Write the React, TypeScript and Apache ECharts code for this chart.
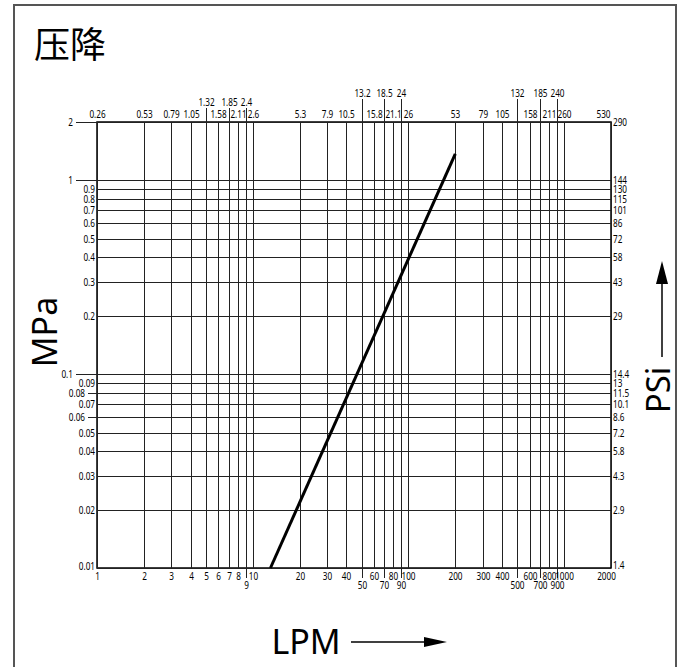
import React, { useEffect, useRef } from "react";
import * as echarts from "echarts";

// ---- data ----
const lpmTicks = [1, 2, 3, 4, 5, 6, 7, 8, 9, 10, 20, 30, 40, 50, 60, 70, 80, 90, 100, 200, 300, 400, 500, 600, 700, 800, 900, 1000, 2000];
const lpmLowered = [9, 50, 70, 90, 500, 700, 900];
const gpmLabels = ["0.26", "0.53", "0.79", "1.05", "1.32", "1.58", "1.85", "2.11", "2.4", "2.6", "5.3", "7.9", "10.5", "13.2", "15.8", "18.5", "21.1", "24", "26", "53", "79", "105", "132", "158", "185", "211", "240", "260", "530"];
const gpmRaisedLow = [5, 7, 9];
const gpmRaisedHigh = [50, 70, 90, 500, 700, 900];
const mpaTicks = [0.01, 0.02, 0.03, 0.04, 0.05, 0.06, 0.07, 0.08, 0.09, 0.1, 0.2, 0.3, 0.4, 0.5, 0.6, 0.7, 0.8, 0.9, 1, 2];
const mpaLabels = ["0.01", "0.02", "0.03", "0.04", "0.05", "0.06", "0.07", "0.08", "0.09", "0.1", "0.2", "0.3", "0.4", "0.5", "0.6", "0.7", "0.8", "0.9", "1", "2"];
const psiLabels = ["1.4", "2.9", "4.3", "5.8", "7.2", "8.6", "10.1", "11.5", "13", "14.4", "29", "43", "58", "72", "86", "101", "115", "130", "144", "290"];
const mpaLongTick = [2, 1, 0.1];
const mpaMidTick = [0.08, 0.06];
const curveLpm = [13, 200];
const curveMpa = [0.01, 1.37];

const X_MIN = lpmTicks[0];
const X_MAX = lpmTicks[lpmTicks.length - 1];
const Y_MIN = mpaTicks[0];
const Y_MAX = mpaTicks[mpaTicks.length - 1];

const SMALL_FONT = "'Noto Sans', 'Open Sans', sans-serif";
const BIG_FONT = "'Noto Sans', 'Open Sans', sans-serif";
const GRID_COLOR = "#222";
const NARROW = 0.82;

function smallText(text: string, x: number, y: number, align: string, vAlign: string) {
  return {
    type: "text",
    x,
    y,
    scaleX: NARROW,
    style: {
      text,
      x: 0,
      y: 0,
      align,
      verticalAlign: vAlign,
      fontSize: 10,
      lineHeight: 9,
      fontFamily: SMALL_FONT,
      fill: "#000",
    },
  };
}

export default function App() {
  const ref = useRef<HTMLDivElement>(null);

  useEffect(() => {
    if (!ref.current) return;
    const chart = echarts.init(ref.current, null, { renderer: "svg" });

    const xTickSeries = {
      type: "custom",
      coordinateSystem: "cartesian2d",
      silent: true,
      clip: false,
      z: 2,
      encode: { x: 0, y: 1 },
      data: lpmTicks.map((v) => [v, Y_MIN]),
      renderItem: (params: any, api: any) => {
        const i = params.dataIndex;
        const v = lpmTicks[i];
        const top = api.coord([v, Y_MAX]);
        const bot = api.coord([v, Y_MIN]);
        const x = Math.round(top[0]) + 0.5;
        const hi = gpmRaisedHigh.includes(v);
        const lo = gpmRaisedLow.includes(v);
        const down = lpmLowered.includes(v);
        const last = i === lpmTicks.length - 1;
        const yTop = top[1] - (hi ? 23 : lo ? 14 : 0);
        const yBot = bot[1] + (down ? 10 : 0);
        return {
          type: "group",
          children: [
            {
              type: "line",
              shape: { x1: x, y1: yTop, x2: x, y2: yBot },
              style: { stroke: GRID_COLOR, lineWidth: 1 },
            },
            smallText(String(v), last ? x - 5 : x, down ? bot[1] + 13 : bot[1] + 4, "center", "top"),
            smallText(gpmLabels[i], last ? x - 8 : x, hi || lo ? yTop - 1 : top[1] - 3, "center", "bottom"),
          ],
        };
      },
    };

    const yTickSeries = {
      type: "custom",
      coordinateSystem: "cartesian2d",
      silent: true,
      clip: false,
      z: 2,
      encode: { x: 0, y: 1 },
      data: mpaTicks.map((v) => [X_MIN, v]),
      renderItem: (params: any, api: any) => {
        const i = params.dataIndex;
        const v = mpaTicks[i];
        const l = api.coord([X_MIN, v]);
        const r = api.coord([X_MAX, v]);
        const y = Math.round(l[1]) + 0.5;
        const ext = mpaLongTick.includes(v) ? 21 : mpaMidTick.includes(v) ? 9 : 0;
        const first = i === 0;
        return {
          type: "group",
          children: [
            {
              type: "line",
              shape: { x1: l[0] - ext, y1: y, x2: r[0], y2: y },
              style: { stroke: GRID_COLOR, lineWidth: 1 },
            },
            smallText(mpaLabels[i], l[0] - ext - (ext ? 3 : 2), first ? y - 2 : y, "right", "middle"),
            smallText(psiLabels[i], r[0] + 2, first ? y - 3 : y, "left", "middle"),
          ],
        };
      },
    };

    const option = {
      animation: false,
      backgroundColor: "#fff",
      grid: {
        left: 97,
        right: 67,
        top: 122,
        bottom: 99,
        show: true,
        borderColor: "#000",
        borderWidth: 1.5,
        backgroundColor: "transparent",
      },
      xAxis: {
        type: "log",
        logBase: 10,
        min: X_MIN,
        max: X_MAX,
        axisLine: { show: false },
        axisTick: { show: false },
        axisLabel: { show: false },
        splitLine: { show: false },
      },
      yAxis: {
        type: "log",
        logBase: 10,
        min: Y_MIN,
        max: Y_MAX,
        axisLine: { show: false },
        axisTick: { show: false },
        axisLabel: { show: false },
        splitLine: { show: false },
      },
      series: [
        xTickSeries,
        yTickSeries,
        {
          type: "line",
          z: 5,
          silent: true,
          symbol: "none",
          lineStyle: { color: "#000", width: 3 },
          data: curveLpm.map((x, i) => [x, curveMpa[i]]),
        },
      ],
      graphic: [
        {
          type: "rect",
          shape: { x: 14, y: 5, width: 662, height: 700 },
          style: { fill: "none", stroke: "#555", lineWidth: 2 },
          silent: true,
        },
        {
          type: "text",
          x: 70,
          y: 42,
          style: {
            text: "压降",
            align: "center",
            verticalAlign: "middle",
            fontSize: 36,
            fontFamily: "'Noto Sans CJK SC', sans-serif",
            fill: "#000",
          },
        },
        {
          type: "text",
          x: 44,
          y: 332,
          rotation: Math.PI / 2,
          style: {
            text: "MPa",
            align: "center",
            verticalAlign: "middle",
            fontSize: 34,
            lineHeight: 30,
            fontFamily: BIG_FONT,
            fill: "#000",
          },
        },
        {
          type: "text",
          x: 306,
          y: 641,
          style: {
            text: "LPM",
            align: "center",
            verticalAlign: "middle",
            fontSize: 34,
            lineHeight: 30,
            fontFamily: BIG_FONT,
            fill: "#000",
          },
        },
        {
          type: "line",
          shape: { x1: 351, y1: 642, x2: 428, y2: 642 },
          style: { stroke: "#000", lineWidth: 1.5 },
        },
        {
          type: "polygon",
          shape: { points: [[424, 637], [447, 642], [424, 647]] },
          style: { fill: "#000" },
        },
        {
          type: "text",
          x: 657,
          y: 390,
          rotation: Math.PI / 2,
          style: {
            text: "PSi",
            align: "center",
            verticalAlign: "middle",
            fontSize: 33,
            lineHeight: 28,
            fontFamily: BIG_FONT,
            fill: "#000",
          },
        },
        {
          type: "line",
          shape: { x1: 662, y1: 357, x2: 662, y2: 280 },
          style: { stroke: "#000", lineWidth: 1.5 },
        },
        {
          type: "polygon",
          shape: { points: [[656, 284], [662, 261], [668, 284]] },
          style: { fill: "#000" },
        },
      ],
    };

    chart.setOption(option as any);
    return () => {
      chart.dispose();
    };
  }, []);

  return (
    <div
      ref={ref}
      style={{ position: "fixed", left: 0, top: 0, width: 678, height: 667 }}
    />
  );
}
